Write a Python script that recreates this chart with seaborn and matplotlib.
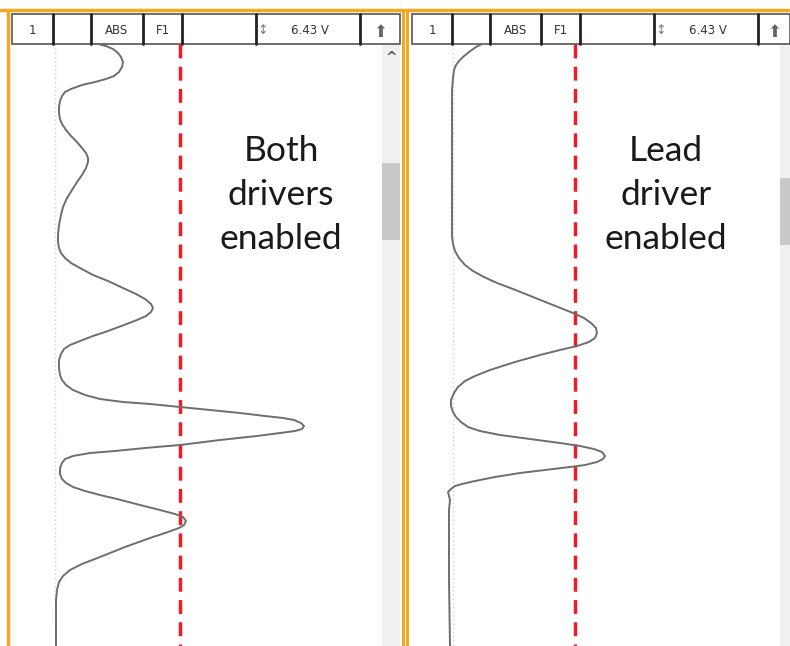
import numpy as np
import pandas as pd
import matplotlib.pyplot as plt
import matplotlib.patches as patches
import seaborn as sns

# A-scan traces (x = screen column, y = depth row)
left_x = [98, 106, 113, 118, 121, 123, 122, 119, 114, 106, 95, 82, 71, 65, 62, 60, 59, 59, 60, 62,
          66, 71, 77, 82, 86, 88, 88, 86, 82, 77, 72, 67, 63, 61, 59, 58, 58, 59, 61, 65,
          71, 80, 93, 108, 123, 136, 145, 151, 153, 151, 146, 137, 124, 108, 93, 80, 70, 64, 61, 59,
          59, 60, 62, 66, 73, 85, 100, 123, 150, 180, 210, 240, 265, 283, 294, 301, 304, 302, 295, 280,
          257, 220, 180, 145, 115, 90, 73, 65, 62, 60, 60, 62, 66, 73, 85, 100, 117, 140, 160, 175,
          183, 186, 184, 179, 168, 150, 125, 100, 82, 70, 63, 59, 57, 56, 56, 56]
left_y = [44, 46, 49, 53, 57, 62, 67, 72, 76, 79, 82, 85, 89, 92, 96, 101, 107, 113, 119, 124,
          130, 136, 142, 148, 153, 158, 162, 168, 175, 182, 190, 198, 207, 215, 225, 235, 242, 248, 253, 258,
          263, 268, 275, 281, 288, 294, 299, 304, 308, 312, 316, 320, 325, 331, 336, 341, 345, 349, 354, 360,
          368, 375, 380, 385, 390, 395, 399, 402, 404, 407, 410, 413, 416, 418, 420, 423, 426, 429, 431, 433,
          436, 440, 445, 448, 451, 453, 456, 459, 463, 468, 474, 479, 483, 487, 491, 495, 499, 505, 510, 514,
          517, 521, 525, 528, 532, 538, 547, 557, 564, 570, 576, 582, 590, 600, 620, 646]

right_x = [482, 476, 469, 463, 459, 456, 454, 453, 452, 452, 452, 452, 452, 452, 453, 455, 459, 465, 473, 484,
           497, 513, 533, 553, 573, 584, 591, 596, 597, 595, 589, 577, 560, 540, 515, 490, 475, 465, 458, 454,
           451, 451, 453, 456, 461, 468, 480, 500, 530, 560, 580, 594, 602, 605, 603, 597, 585, 570, 545, 520,
           495, 475, 462, 455, 451, 448, 449, 450, 449, 449, 449, 450]
right_y = [44, 47, 52, 57, 61, 65, 70, 78, 90, 117, 160, 200, 226, 236, 244, 251, 258, 265, 271, 277,
           283, 289, 297, 305, 313, 318, 323, 328, 333, 338, 342, 346, 350, 355, 362, 370, 376, 381, 387, 393,
           400, 406, 412, 417, 422, 427, 431, 435, 439, 443, 446, 449, 452, 456, 459, 462, 465, 467, 470, 473,
           477, 481, 484, 486, 489, 492, 496, 500, 510, 540, 580, 646]

header_labels = ["1", "", "ABS", "F1", "", "6.43 V", ""]
panel_labels = ["Both\ndrivers\nenabled", "Lead\ndriver\nenabled"]

sns.set_style("white")
plt.rcParams['font.family'] = ['DejaVu Sans']

W, H = 790, 646
fig = plt.figure(figsize=(W / 100, H / 100), dpi=100)
ax = fig.add_axes([0, 0, 1, 1])
ax.set_xlim(0, W)
ax.set_ylim(H, 0)
ax.axis('off')

orange = "#f5a623"
trace_col = "#6e6e6e"

panels = [
    dict(cells=[12, 53, 91, 143, 182, 256, 360, 400], base=55, cursor=180,
         sb=(382, 400), thumb=(163, 240), tx=281, xs=left_x, ys=left_y),
    dict(cells=[412, 452, 490, 541, 580, 654, 758, 790], base=453, cursor=575,
         sb=(780, 790), thumb=(178, 245), tx=666, xs=right_x, ys=right_y),
]

for i, p in enumerate(panels):
    # scrollbar
    ax.add_patch(patches.Rectangle((p['sb'][0], 44), p['sb'][1] - p['sb'][0], H - 44,
                                   color="#f0f0f0", lw=0, zorder=1))
    ax.add_patch(patches.Rectangle((p['sb'][0], p['thumb'][0]), p['sb'][1] - p['sb'][0],
                                   p['thumb'][1] - p['thumb'][0], color="#c9c9c9", lw=0, zorder=1))
    if p['sb'][1] - p['sb'][0] > 12:
        ax.text((p['sb'][0] + p['sb'][1]) / 2, 58, "^", ha='center', va='center',
                fontsize=10, color="#555555", fontweight='bold', zorder=2)

    # header cells
    c = p['cells']
    ax.add_patch(patches.Rectangle((c[0], 14), c[-1] - c[0], 30, facecolor="white",
                                   edgecolor="#555555", lw=1.2, zorder=3))
    for xe in c[1:-1]:
        ax.plot([xe, xe], [14, 44], color="#222222", lw=2, zorder=4)
    for j, lab in enumerate(header_labels):
        ax.text((c[j] + c[j + 1]) / 2 + (2 if j == 5 else 0), 31, lab, ha='center', va='center',
                fontsize=8.5, color="#333333", zorder=5)
    ax.text(c[5] + 7, 31, "↕", ha='center', va='center', fontsize=9, color="#777777", zorder=5)
    ax.text((c[6] + c[7]) / 2, 32, "⬆", ha='center', va='center',
            fontsize=12, color="#666666", zorder=5)

    # baseline and gate cursor
    ax.plot([p['base'], p['base']], [44, H], color="#c5cdf5", lw=1, ls=(0, (1, 2)), zorder=2)
    ax.plot([p['cursor'], p['cursor']], [44, H], color="#ee1c24", lw=2.5, ls=(0, (4, 2.4)), zorder=6)

    # trace
    df = pd.DataFrame({'x': p['xs'], 'y': p['ys']})
    sns.lineplot(data=df, x='x', y='y', sort=False, estimator=None, ax=ax,
                 color=trace_col, lw=1.4, zorder=7, solid_joinstyle='round')

    ax.text(p['tx'], 195, panel_labels[i], ha='center', va='center', fontsize=25.5,
            family='Lato', linespacing=1.47, color="#1a1a1a", zorder=8)

# orange frame
ax.plot([0, W], [10, 10], color=orange, lw=2.5, zorder=9)
ax.plot([8, 8], [10, H], color=orange, lw=2.5, zorder=9)
ax.plot([403, 403], [10, H], color=orange, lw=2.2, zorder=9)
ax.plot([406.5, 406.5], [10, H], color=orange, lw=2.2, zorder=9)

ax.set_xlim(0, W)
ax.set_ylim(H, 0)
ax.set_xlabel("")
ax.set_ylabel("")

fig.savefig("out.png", dpi=100, facecolor="white")
